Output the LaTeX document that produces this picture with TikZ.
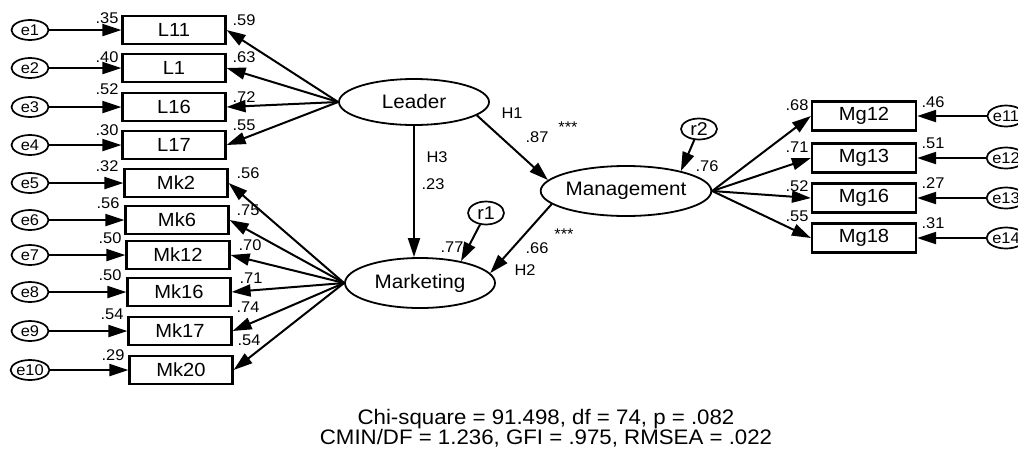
\documentclass[tikz,border=0pt]{standalone}
\usepackage{fontspec}
\setmainfont[FakeStretch=1.06]{Liberation Sans}
\usetikzlibrary{arrows.meta,shapes.geometric,calc}

\begin{document}
\begin{tikzpicture}
[
x=1pt, y=-1pt
, >={Triangle[length=19pt,width=12pt]}
, every node/.style={font=\fontsize{15.5}{17}\selectfont, inner sep=0pt}
, ind/.style={draw, line width=2.2pt, minimum width=103pt, minimum height=28pt, font=\fontsize{19}{21}\selectfont}
, err/.style={draw, ellipse, line width=1.7pt, minimum width=37pt, minimum height=20pt}
, res/.style={draw, ellipse, line width=1.7pt, minimum width=36pt, minimum height=23pt, font=\fontsize{18.5}{20}\selectfont}
, lat/.style={draw, ellipse, line width=1.8pt, minimum width=150pt, minimum height=46pt, font=\fontsize{19.5}{21}\selectfont}
, reg/.style={line width=2pt, ->}
]

\useasboundingbox (0,0) rectangle (1018,448);

% latent variables
\node[lat] (leader) at (414,102) {Leader};
\node[lat, minimum height=50pt] (mkt) at (420,283) {Marketing};
\node[lat, minimum height=50pt] (mgmt) at (626,191) {Management};
\node[res] (r1) at (486,213) {r1};
\node[res, minimum height=21pt] (r2) at (699,129) {r2};

% indicators of Leader and Marketing
\foreach \i/\lbl/\y/\x in {1/L11/30/174, 2/L1/68/174, 3/L16/107/174, 4/L17/145/174, 5/Mk2/183/176, 6/Mk6/220/177, 7/Mk12/255/178, 8/Mk16/292/179, 9/Mk17/331/180, 10/Mk20/370/181}
{
  \node[ind] (x\i) at (\x,\y) {\lbl};
  \node[err] (e\i) at (30,\y) {e\i};
  \draw[reg] (e\i) -- (x\i);
}
\foreach \i in {1,...,4} \draw[reg] (leader.west) -- (x\i.east);
\foreach \i in {5,...,10} \draw[reg] (mkt.west) -- (x\i.east);

% indicators of Management
\foreach \i/\lbl/\y in {11/Mg12/116, 12/Mg13/158, 13/Mg16/198, 14/Mg18/238}
{
  \node[ind, minimum height=29pt, minimum width=104pt] (x\i) at (864,\y) {\lbl};
  \node[err, minimum height=21pt] (e\i) at (1006,\y) {e\i};
  \draw[reg] (e\i) -- (x\i);
  \draw[reg] (mgmt.east) -- (x\i.west);
}

% structural paths
\draw[reg] (leader.-12) -- (mgmt.172);
\draw[reg] (mgmt.-170) -- (mkt.8);
\draw[reg] (leader.south) -- (leader.south |- mkt.north);
\draw[reg] (r1) -- (mkt.28);
\draw[reg] (r2) -- (mgmt.20);

% squared multiple correlations and loadings
\foreach \i/\v/\x/\y in {1/.35/107/18, 2/.40/107/57, 3/.52/107/89, 4/.30/107/130, 5/.32/107/166, 6/.56/108/203, 7/.50/110/238, 8/.50/110/275, 9/.54/112/314, 10/.29/113/355, 11/.68/797/105, 12/.71/797/147, 13/.52/797/186, 14/.55/797/216}
  \node (v\i) at (\x,\y) {\v};
\foreach \i/\v/\x/\y in {1/.59/244/20, 2/.63/244/57, 3/.72/244/97, 4/.55/244/125, 5/.56/248/173, 6/.75/248/210, 7/.70/250/245, 8/.71/251/278, 9/.74/248/307, 10/.54/249/340, 11/.46/933/102, 12/.51/933/143, 13/.27/933/183, 14/.31/933/223}
  \node (w\i) at (\x,\y) {\v};

% path labels
\node (h1) at (512,113) {H1};
\node (b1) at (537,137) {.87};
\node (s1) at (568,127) {***};
\node (h3) at (437,157) {H3};
\node (b3) at (433,184) {.23};
\node (rsq1) at (452,247) {.77};
\node (s2) at (564,234) {***};
\node (b2) at (537,248) {.66};
\node (h2) at (525,270) {H2};
\node (rsq2) at (707,166) {.76};

% fit indices
\node[font=\fontsize{21}{20}\selectfont, align=center] (fit) at (546,428)
  {Chi-square = 91.498, df = 74, p = .082\\CMIN/DF = 1.236, GFI = .975, RMSEA = .022};

\end{tikzpicture}
\end{document}
